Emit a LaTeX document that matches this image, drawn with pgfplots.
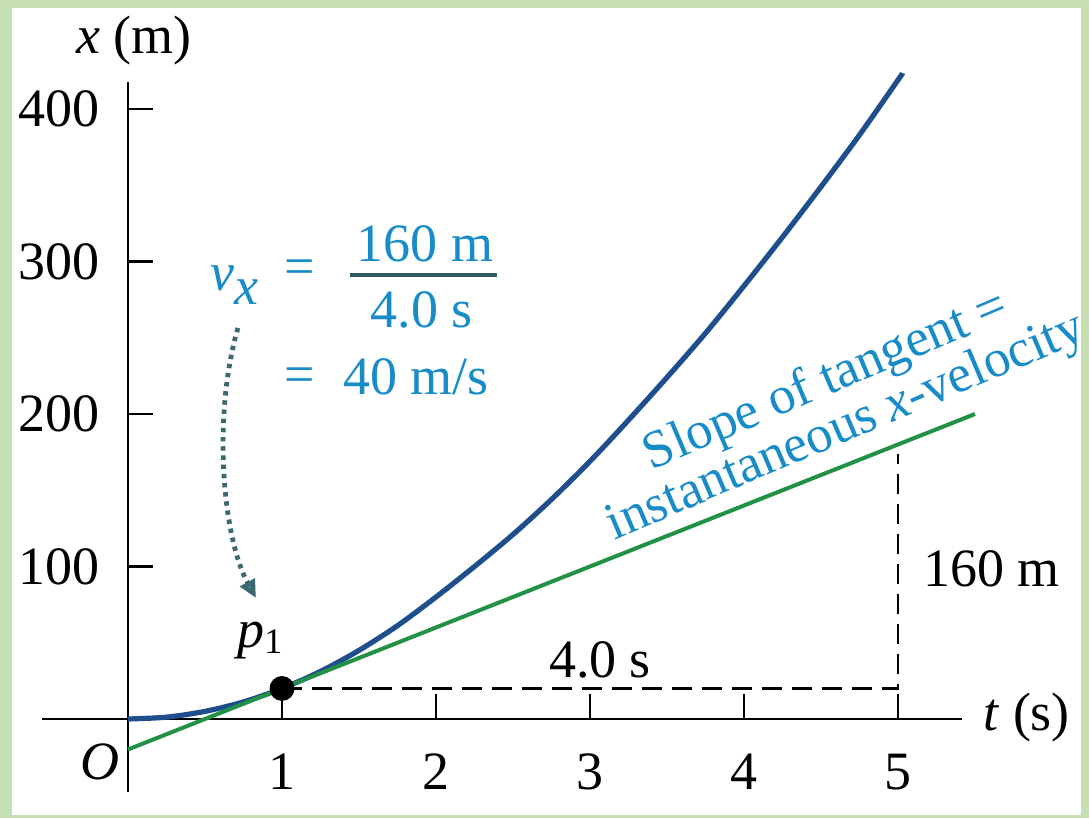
\documentclass[border=0pt]{standalone}
\usepackage{fontspec}
\setmainfont{Liberation Serif}
\usepackage{pgfplots}
\pgfplotsset{compat=1.18}
\usetikzlibrary{arrows.meta}

\definecolor{framegreen}{RGB}{198,224,180}
\definecolor{curveblue}{RGB}{31,78,140}
\definecolor{tangentgreen}{RGB}{34,145,70}
\definecolor{noteblue}{RGB}{24,140,200}
\definecolor{barteal}{RGB}{45,90,100}
\definecolor{dotteal}{RGB}{62,104,112}
\newcommand\lab{\fontsize{27}{30}\selectfont}

\begin{document}
\begin{tikzpicture}
% page frame (units of 0.5pt, measured from the top-left corner)
\begin{scope}[x=0.5pt,y=-0.5pt,shift={(-64pt,359.5pt)}]
  \fill[framegreen] (0,0) rectangle (1089,818);
  \fill[white] (12,8) rectangle (1081,815);
\end{scope}

\begin{axis}[
  anchor=origin, at={(0,0)},
  x=77pt, y=0.7625pt,
  xmin=-0.558, xmax=5.416, ymin=-47.9, ymax=417.7,
  axis lines=middle,
  axis line style={-, black, line width=1.4pt},
  clip=false,
  xtick={1,2,3,4,5}, ytick={100,200,300,400},
  tick style={black, line width=1.3pt},
  major tick length=12.5pt,
  tick align=inside,
  /pgf/number format/assume math mode=true,
  ticklabel style={font=\lab},
  xticklabel style={anchor=base, inner sep=0pt, yshift=-35.5pt},
  yticklabel style={anchor=east, inner sep=0pt, xshift=-14pt},
]
% position x(t)
\addplot[curveblue, line width=2.6pt, smooth] coordinates {
  (0,0) (0.25,1.2) (0.5,5) (0.75,11.2) (1,20) (1.25,31.2) (1.5,45)
  (1.75,61.2) (2,80) (2.25,100) (2.5,121) (2.75,144) (3,169) (3.25,196)
  (3.5,224) (3.75,253) (4,284) (4.25,316) (4.5,349) (4.75,383) (5,419)
  (5.03,423.5)};
% tangent at t = 1 s
\addplot[tangentgreen, line width=2pt] coordinates {(0,-20) (5.5,200)};
% rise and run of the tangent
\addplot[black, line width=1.4pt, dash pattern=on 10pt off 5pt] coordinates {(1,20) (5,20) (5,174)};
% point p1
\addplot[only marks, mark=*, mark size=6pt, black] coordinates {(1,20)};

% axis descriptions
\node[font=\lab, inner sep=0pt] at (0.039,445.2) {\textit{x} (m)};
\node[font=\lab, inner sep=0pt, anchor=west] at (5.552,1) {\textit{t} (s)};
\node[font=\lab, inner sep=0pt] at (-0.182,-28.2) {\textit{O}};

% annotations
\node[font=\lab, inner sep=0pt, anchor=base west] at (0.708,47.2) {\textit{p}\raisebox{-3pt}{\fontsize{18}{18}\selectfont 1}};
\node[font=\lab, inner sep=0pt, anchor=base] at (3.065,27.5) {4.0 s};
\node[font=\lab, inner sep=0pt, anchor=base west] at (5.162,86.6) {160 m};

\begin{scope}[noteblue]
\node[font=\lab, inner sep=0pt, anchor=base west] at (0.532,281.3) {\textit{v}\raisebox{-7pt}{\textit{x}}};
\node[font=\lab, inner sep=0pt] at (1.117,293.1) {=};
\draw[barteal, line width=1.6pt] (1.442,291.1) -- (2.396,291.1);
\node[font=\lab, inner sep=0pt, anchor=base] at (1.929,299.7) {160 m};
\node[font=\lab, inner sep=0pt, anchor=base] at (1.909,256.4) {4.0 s};
\node[font=\lab, inner sep=0pt] at (1.117,222.3) {=};
\node[font=\lab, inner sep=0pt, anchor=base west] at (1.396,212.5) {40 m/s};
\node[font=\fontsize{26.5}{25}\selectfont, inner sep=0pt, rotate=23, align=center] at (4.60,206)
  {Slope of tangent =\\instantaneous \textit{x}-velocity};
\end{scope}

% curved pointer to p1
\draw[dotteal, line width=2.4pt, dash pattern=on 2.2pt off 2.4pt,
  -{Triangle[length=9pt,width=8pt,fill=dotteal!60!cyan]}]
  (0.714,256.4) .. controls (0.55,200) and (0.61,120) .. (0.831,79.3);
\end{axis}

\begin{scope}[x=0.5pt,y=-0.5pt,shift={(-64pt,359.5pt)}]
  \pgfresetboundingbox
  \useasboundingbox (0,0) rectangle (1089,818);
\end{scope}
\end{tikzpicture}
\end{document}
